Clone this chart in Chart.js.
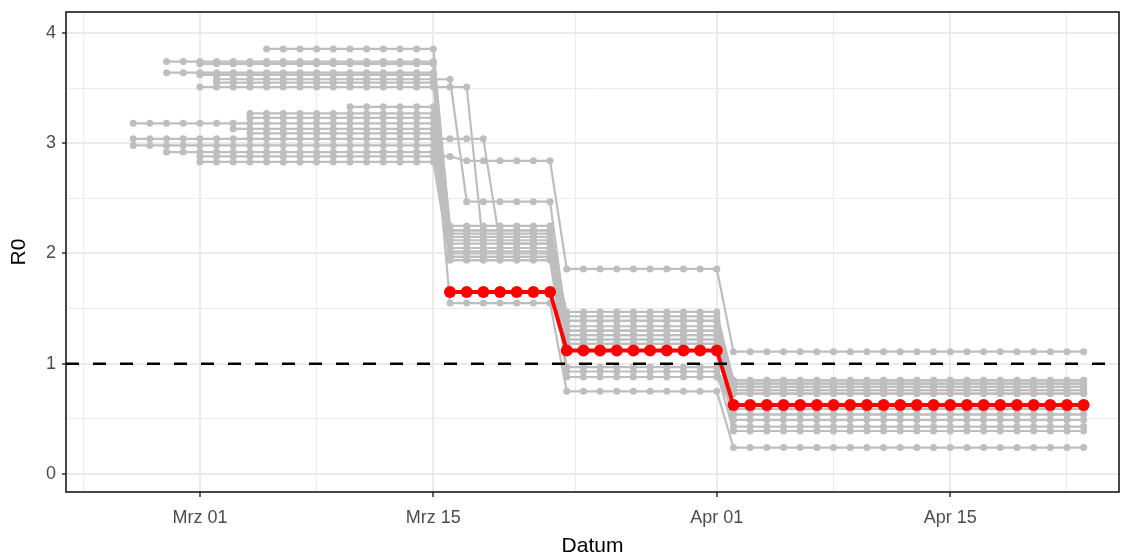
<!DOCTYPE html>
<html>
<head>
<meta charset="utf-8">
<script src="https://cdn.jsdelivr.net/npm/chart.js@4.4.1/dist/chart.umd.min.js"></script>
<style>
  html, body { margin: 0; padding: 0; background: #fff; }
  #wrap { width: 1125px; height: 555px; }
</style>
</head>
<body>
<div id="wrap"><canvas id="myChart" width="1125" height="555"></canvas></div>
<script>
// Bezugsdatum fuer die x-Achse (Tage ab 1. Maerz)
const baseDate = '2020-03-01';

// Achsen
const xTickDays = [0, 14, 31, 45];
const xTickLabels = ['Mrz 01', 'Mrz 15', 'Apr 01', 'Apr 15'];
const xMinorDays = [-7, 7, 22.5, 38, 52];
const yTicks = [0, 1, 2, 3, 4];
const yMinor = [0.5, 1.5, 2.5, 3.5];
const xRange = [-8.03, 55.12];
const yRange = [-0.163, 4.19];
const schwelle = 1;

// graue Verlaeufe: Startdatum + Abschnitte [R0, Anzahl Tage]
const greyStarts = [
  '2020-03-05', '2020-02-28', '2020-03-01', '2020-02-28', '2020-03-01',
  '2020-03-02', '2020-03-02', '2020-03-01', '2020-03-10', '2020-03-04',
  '2020-03-04', '2020-02-26', '2020-03-03', '2020-03-04', '2020-02-26',
  '2020-02-26', '2020-02-28', '2020-03-01', '2020-03-01'
];
const greyRuns = [
  [[3.855, 11], [2.21, 7], [1.39, 10], [0.79, 22]],
  [[3.74, 17], [2.09, 7], [1.47, 10], [0.82, 22]],
  [[3.72, 15], [1.97, 7], [1.22, 10], [0.59, 22]],
  [[3.64, 17], [2.25, 7], [1.43, 10], [0.85, 22]],
  [[3.62, 15], [2.02, 7], [1.30, 10], [0.73, 22]],
  [[3.58, 15], [2.47, 6], [1.34, 10], [0.76, 22]],
  [[3.55, 14], [1.94, 7], [0.97, 10], [0.54, 22]],
  [[3.51, 17], [2.05, 5], [1.26, 10], [0.82, 22]],
  [[3.33, 6], [2.18, 7], [1.39, 10], [0.49, 22]],
  [[3.27, 12], [1.55, 7], [0.75, 10], [0.24, 22]],
  [[3.23, 12], [2.12, 7], [1.18, 10], [0.43, 22]],
  [[3.18, 19], [2.15, 7], [0.93, 10], [0.39, 22]],
  [[3.13, 13], [2.00, 7], [1.22, 10], [0.79, 22]],
  [[3.09, 12], [2.05, 7], [1.18, 10], [0.73, 22]],
  [[3.04, 22], [2.09, 4], [0.88, 10], [0.59, 22]],
  [[2.98, 19], [1.97, 7], [1.39, 10], [0.85, 22]],
  [[2.92, 17], [2.21, 7], [1.30, 10], [0.54, 22]],
  [[2.88, 16], [2.84, 6], [1.86, 10], [1.11, 22]],
  [[2.83, 15], [1.94, 7], [1.26, 10], [0.76, 22]]
];

// roter Verlauf
const redStart = '2020-03-16';
const redRuns = [[1.65, 7], [1.12, 10], [0.625, 22]];

function tagNr(s) {
  return Math.round((Date.parse(s) - Date.parse(baseDate)) / 86400000);
}

function punkte(start, runs) {
  const out = [];
  let d = tagNr(start);
  runs.forEach(r => {
    for (let i = 0; i < r[1]; i++) {
      out.push({ x: d, y: r[0] });
      d++;
    }
  });
  return out;
}

const datasets = [];
datasets.push({
  data: [{ x: xRange[0], y: schwelle }, { x: xRange[1], y: schwelle }],
  borderColor: '#000',
  borderWidth: 2.5,
  borderDash: [13, 14],
  pointRadius: 0,
  order: 0
});
datasets.push({
  data: punkte(redStart, redRuns),
  borderColor: '#FF0000',
  backgroundColor: '#FF0000',
  borderWidth: 4,
  pointRadius: 6,
  pointBorderWidth: 0,
  borderJoinStyle: 'round',
  order: 1
});
greyStarts.forEach((s, i) => {
  datasets.push({
    data: punkte(s, greyRuns[i]),
    borderColor: '#BEBEBE',
    backgroundColor: '#BEBEBE',
    borderWidth: 2.2,
    pointRadius: 3.5,
    pointBorderWidth: 0,
    borderJoinStyle: 'round',
    order: 2
  });
});

const rahmen = {
  id: 'rahmen',
  afterDraw(chart) {
    const a = chart.chartArea;
    const c = chart.ctx;
    c.save();
    c.strokeStyle = '#1a1a1a';
    c.lineWidth = 1.6;
    c.strokeRect(a.left, a.top, a.right - a.left, a.bottom - a.top);
    c.restore();
  }
};

const istMajorX = v => xTickDays.includes(v);
const istMajorY = v => yTicks.includes(v);

new Chart(document.getElementById('myChart'), {
  type: 'line',
  data: { datasets },
  options: {
    responsive: false,
    animation: false,
    devicePixelRatio: 1,
    layout: { padding: { top: 12, right: 5, left: 0, bottom: 0 } },
    plugins: { legend: { display: false }, tooltip: { enabled: false } },
    elements: { line: { tension: 0 } },
    scales: {
      x: {
        type: 'linear',
        min: xRange[0],
        max: xRange[1],
        afterBuildTicks: s => {
          s.ticks = xMinorDays.concat(xTickDays).sort((a, b) => a - b).map(v => ({ value: v }));
        },
        afterFit: s => { s.height = 63; s.paddingLeft = 0; s.paddingRight = 0; },
        border: { display: false },
        grid: {
          color: '#EBEBEB',
          lineWidth: ctx => istMajorX(ctx.tick.value) ? 2 : 1,
          tickLength: 5,
          tickColor: ctx => istMajorX(ctx.tick.value) ? '#333333' : 'rgba(0,0,0,0)',
          tickWidth: 1.5
        },
        ticks: {
          autoSkip: false,
          maxRotation: 0,
          padding: 10,
          color: '#4D4D4D',
          font: { family: 'Liberation Sans', size: 18 },
          callback: v => {
            const i = xTickDays.indexOf(v);
            return i >= 0 ? xTickLabels[i] : '';
          }
        },
        title: {
          display: true,
          text: 'Datum',
          color: '#000',
          font: { family: 'Liberation Sans', size: 21 },
          padding: { top: 0, bottom: -4 }
        }
      },
      y: {
        type: 'linear',
        min: yRange[0],
        max: yRange[1],
        afterBuildTicks: s => {
          s.ticks = yMinor.concat(yTicks).sort((a, b) => a - b).map(v => ({ value: v }));
        },
        afterFit: s => { s.width = 66; s.paddingTop = 0; s.paddingBottom = 0; },
        border: { display: false },
        grid: {
          color: '#EBEBEB',
          lineWidth: ctx => istMajorY(ctx.tick.value) ? 2 : 1,
          tickLength: 4,
          tickColor: ctx => istMajorY(ctx.tick.value) ? '#333333' : 'rgba(0,0,0,0)',
          tickWidth: 1.5
        },
        ticks: {
          autoSkip: false,
          padding: 6,
          color: '#4D4D4D',
          font: { family: 'Liberation Sans', size: 18 },
          callback: v => istMajorY(v) ? String(v) : ''
        },
        title: {
          display: true,
          text: 'R0',
          color: '#000',
          font: { family: 'Liberation Sans', size: 21 },
          padding: { top: 7, bottom: 0 }
        }
      }
    }
  },
  plugins: [rahmen]
});
</script>
</body>
</html>
